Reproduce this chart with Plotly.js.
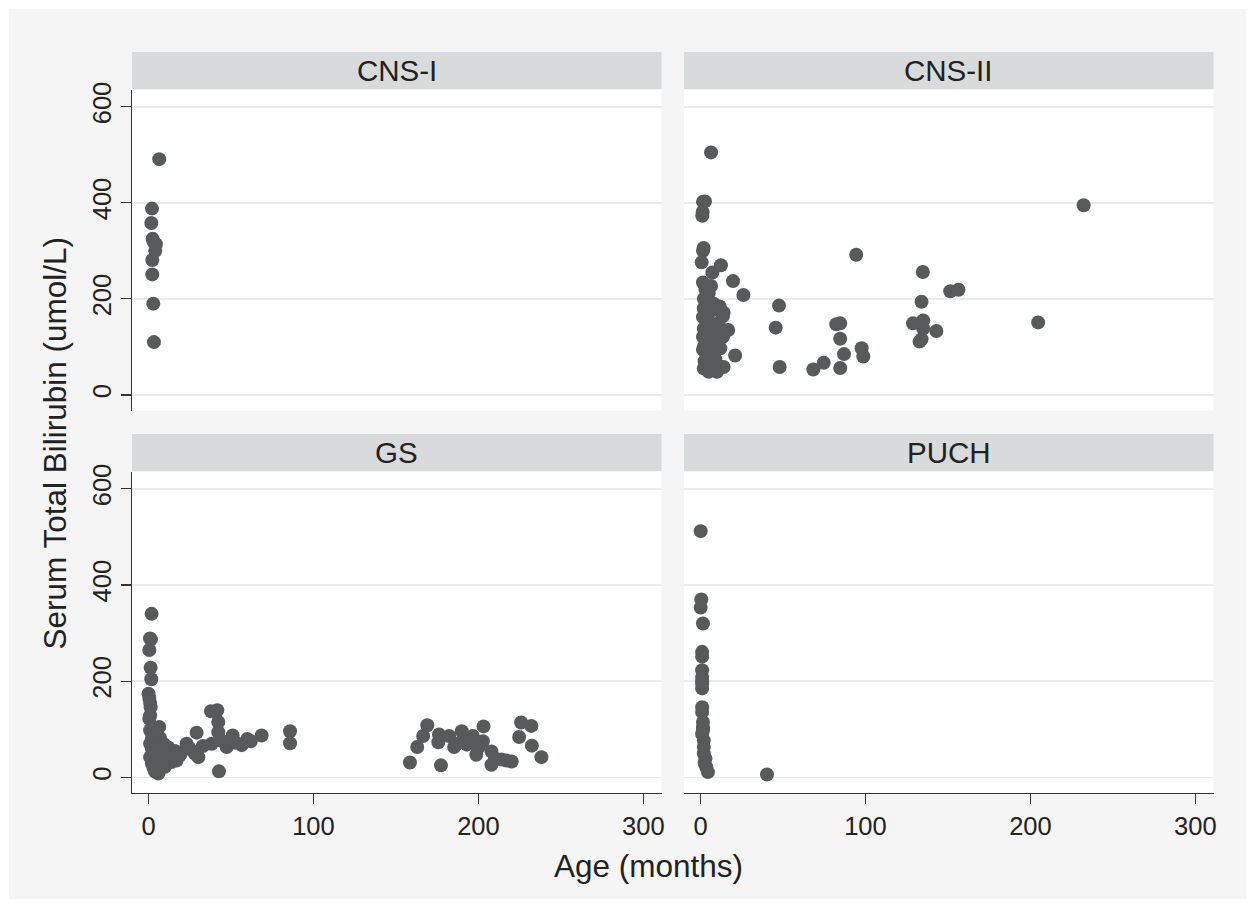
<!DOCTYPE html>
<html>
<head>
<meta charset="utf-8">
<script src="https://cdn.plot.ly/plotly-3.0.1.min.js"></script>
<style>
  html, body { margin: 0; padding: 0; background: #ffffff; }
  #chart { position: absolute; left: 9px; top: 9px; width: 1237px; height: 890px; }
</style>
</head>
<body>
<div id="chart"></div>
<script>
// ---- Data ----
const panelNames = ["CNS-I", "CNS-II", "GS", "PUCH"];
const xTickVals = [0, 100, 200, 300];
const yTickVals = [0, 200, 400, 600];
const xTitle = "Age (months)";
const yTitle = "Serum Total Bilirubin (umol/L)";

const cns1Age  = [6.5, 2.1, 1.7, 2.5, 4.5, 3.0, 4.1, 2.3, 2.3, 2.9, 3.3];
const cns1Bili = [491, 388, 358, 325, 314, 320, 300, 281, 251, 190, 110];

const cns2Age  = [1.5, 2.7, 1.1, 1.3, 1.9, 1.5, 0.7, 12.4, 7.2, 19.7, 1.5, 6.4, 3, 5, 2, 4, 8, 3.5, 26, 11.6,
                  14, 10, 2, 5, 1.5, 13.6, 4, 8, 2, 16.8, 1.5, 7.6, 13.6, 5, 10, 2, 1.5, 7, 12, 21,
                  4, 9, 2.5, 6, 11, 2, 7.5, 10, 5, 14, 3, 9, 6, 11,
                  6.4, 47.6, 45.6, 48, 68.4, 74.7, 84.7, 87, 84.7, 82.3, 84.7, 94.4, 97.7, 98.7,
                  134.8, 134, 128.8, 135, 135, 143, 132.8, 134, 151.4, 156.4, 204.7, 232.3];
const cns2Bili = [402, 403, 373, 381, 306, 300, 276, 270, 255, 237, 234, 227, 220, 212, 200, 195, 190, 205, 208, 184,
                  171, 178, 180, 170, 162, 164, 150, 145, 138, 135, 121, 121, 121, 110, 105, 100, 94, 90, 97, 82,
                  80, 75, 70, 65, 60, 55, 55, 48, 48, 58, 130, 135, 115, 150,
                  505, 186, 140, 58, 53, 67, 56, 85, 117, 147, 149, 292, 97, 80,
                  256, 194, 149, 155, 138, 133, 111, 116, 216, 219, 151, 395];

const gsAge  = [1.9, 0.9, 1.5, 0.5, 1.3, 1.7, 0, 0.5, 1, 1.3, 1, 0.5, 6.5, 1, 3, 5, 2, 7, 1, 4,
                9, 2, 6, 11, 3, 8, 12, 1, 5, 9, 14, 2, 6, 3, 7, 4, 6, 10, 19, 14,
                17, 12, 16, 20, 8, 10, 4, 7,
                37.9, 41.7, 42.3, 42.3, 29.2, 23.1, 30.2, 38.3, 47.4, 51, 56.5, 59.9, 68.6, 85.8, 85.8, 42.7,
                25, 33, 28, 45, 53, 62,
                158.5, 162.9, 166.5, 169, 176.1, 175.7, 177.3, 182.3, 185.3, 189.9, 191.5, 196.6, 197.6,
                203.1, 202.7, 198.7, 207.9, 207.9, 214, 220.2, 225.9, 232.1, 224.7, 232.4, 238.2,
                187, 193, 200, 210, 217];
const gsBili = [340, 289, 287, 265, 228, 204, 174, 165, 155, 146, 129, 122, 105, 98, 90, 88, 80, 82, 70, 72,
                70, 60, 62, 56, 50, 50, 45, 42, 40, 38, 32, 30, 28, 20, 18, 12, 8, 22, 46, 40,
                35, 62, 55, 52, 30, 40, 25, 60,
                137.5, 139.6, 115, 94, 93, 70, 42, 70, 63, 87, 67, 80, 87, 96, 71, 12.5,
                60, 65, 50, 75, 72, 75,
                31, 63, 86, 108.5, 89, 73, 25, 86, 63, 96, 79, 86, 72,
                106, 75, 47, 54, 26, 37, 33, 114, 107, 84, 66, 42,
                70, 68, 62, 40, 35];

const puchAge  = [0.1, 0.5, 0.1, 1.5, 1, 1, 1, 1, 1, 1, 1, 1, 1.5, 1.5, 2, 2, 3, 3.5, 4.5, 40.3,
                  1, 2, 2.5, 1.5, 1];
const puchBili = [512, 370, 353, 320, 261, 251, 223, 209, 195, 185, 146, 136, 115, 98, 77, 63, 39, 21, 11, 6,
                  90, 50, 30, 105, 200];

// ---- Styling / layout ----
const FONT = "Liberation Sans, Arial, Helvetica, sans-serif";
const markerColor = "#58595b";
const W = 1237, H = 890;
const xDomL = [123 / W, 652.5 / W];
const xDomR = [675 / W, 1204.5 / W];
const yDomT = [1 - 401.5 / H, 1 - 81 / H];
const yDomB = [1 - 784 / H, 1 - 463 / H];
const xRange = [-10, 311];
const yRange = [-32.5, 635];

function mk(x, y, xa, ya) {
  return {
    type: "scatter", mode: "markers", x: x, y: y, xaxis: xa, yaxis: ya,
    marker: { color: markerColor, size: 14, line: { width: 0 } },
    hoverinfo: "x+y", showlegend: false
  };
}

const data = [
  mk(cns1Age, cns1Bili, "x", "y"),
  mk(cns2Age, cns2Bili, "x2", "y2"),
  mk(gsAge, gsBili, "x3", "y3"),
  mk(puchAge, puchBili, "x4", "y4")
];

const gridColor = "#ececec";
const axisColor = "#333333";
const tickFont = { family: FONT, size: 25.5, color: "#222222" };

function xAxis(domain, anchor, labeled) {
  return {
    domain: domain, anchor: anchor, range: xRange, autorange: false,
    showgrid: false, zeroline: false,
    showline: labeled, linecolor: axisColor, linewidth: 1.2,
    ticks: labeled ? "outside" : "", ticklen: 10, tickwidth: 1.2, tickcolor: axisColor,
    tickmode: "array", tickvals: xTickVals, ticktext: xTickVals.map(String),
    showticklabels: labeled, tickfont: tickFont
  };
}
function yAxis(domain, anchor, labeled) {
  return {
    domain: domain, anchor: anchor, range: yRange, autorange: false,
    showgrid: true, gridcolor: gridColor, gridwidth: 1.5, zeroline: false,
    showline: labeled, linecolor: axisColor, linewidth: 1.2,
    ticks: labeled ? "outside" : "", ticklen: 10, tickwidth: 1.2, tickcolor: axisColor,
    tickmode: "array", tickvals: yTickVals, ticktext: yTickVals.map(String),
    showticklabels: labeled, tickangle: -90, tickfont: tickFont
  };
}

const strips = [
  { xd: xDomL, yd: [1 - 80 / H, 1 - 43 / H] },
  { xd: xDomR, yd: [1 - 80 / H, 1 - 43 / H] },
  { xd: xDomL, yd: [1 - 462 / H, 1 - 425 / H] },
  { xd: xDomR, yd: [1 - 462 / H, 1 - 425 / H] }
];

const shapes = strips.map(s => ({
  type: "rect", xref: "paper", yref: "paper",
  x0: s.xd[0], x1: s.xd[1], y0: s.yd[0], y1: s.yd[1],
  fillcolor: "#d9dadb", line: { width: 0 }, layer: "below"
}));

const annotations = strips.map((s, i) => ({
  xref: "paper", yref: "paper",
  x: (s.xd[0] + s.xd[1]) / 2, y: (s.yd[0] + s.yd[1]) / 2,
  xanchor: "center", yanchor: "middle", showarrow: false,
  text: panelNames[i], font: { family: FONT, size: 29.5, color: "#222222" }
}));
annotations.push({
  xref: "paper", yref: "paper", x: 639 / W, y: 1 - 857 / H,
  xanchor: "center", yanchor: "middle", showarrow: false,
  text: xTitle, font: { family: FONT, size: 31.5, color: "#222222" }
});
annotations.push({
  xref: "paper", yref: "paper", x: 45 / W, y: 1 - 434.5 / H,
  xanchor: "center", yanchor: "middle", showarrow: false, textangle: -90,
  text: yTitle, font: { family: FONT, size: 31.5, color: "#222222" }
});

const layout = {
  width: W, height: H,
  margin: { l: 0, r: 0, t: 0, b: 0, pad: 0 },
  paper_bgcolor: "#f5f5f5", plot_bgcolor: "#ffffff",
  font: { family: FONT, color: "#222222" },
  showlegend: false,
  xaxis: xAxis(xDomL, "y", false),
  yaxis: yAxis(yDomT, "x", true),
  xaxis2: xAxis(xDomR, "y2", false),
  yaxis2: yAxis(yDomT, "x2", false),
  xaxis3: xAxis(xDomL, "y3", true),
  yaxis3: yAxis(yDomB, "x3", true),
  xaxis4: xAxis(xDomR, "y4", true),
  yaxis4: yAxis(yDomB, "x4", false),
  shapes: shapes,
  annotations: annotations
};

Plotly.newPlot("chart", data, layout, { displayModeBar: false, staticPlot: true });
</script>
</body>
</html>
